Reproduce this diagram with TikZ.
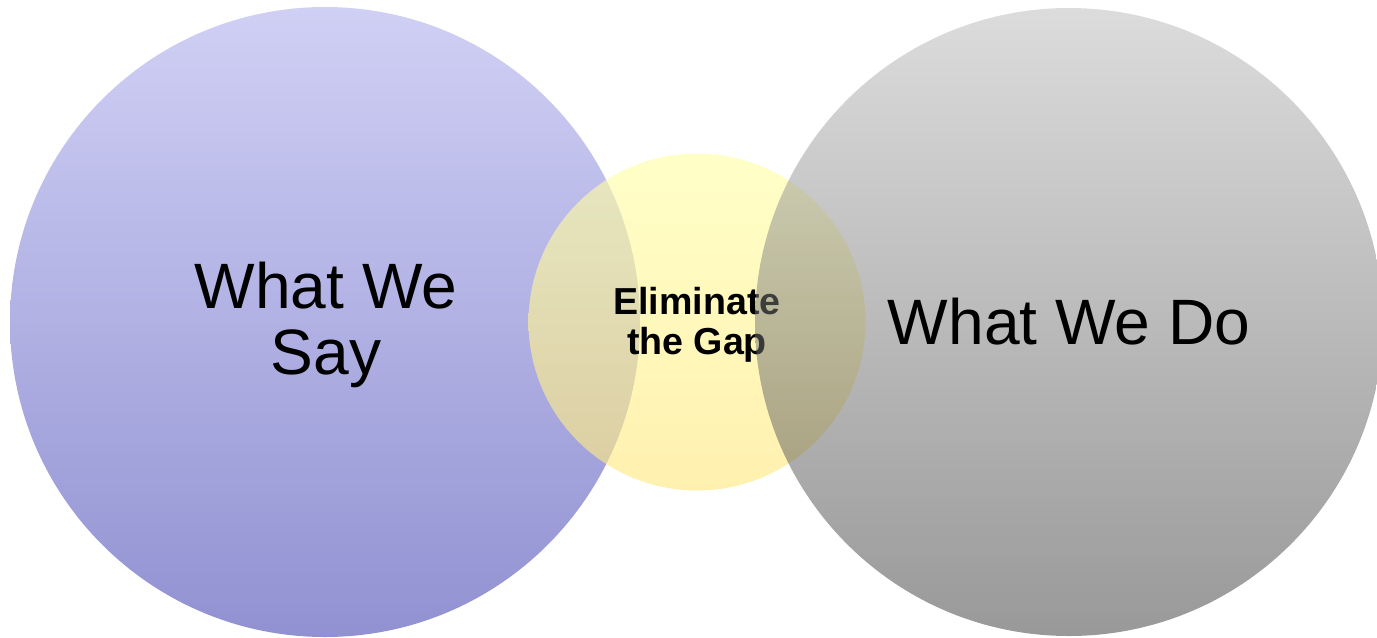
\documentclass[tikz,border=0pt]{standalone}
\usepackage{fontspec}
\setmainfont{Liberation Sans}
\usepackage{tikz}

\definecolor{saytop}{RGB}{208,208,245}
\definecolor{saybot}{RGB}{145,145,210}
\definecolor{gaptop}{RGB}{255,255,168}
\definecolor{gapbot}{RGB}{255,232,128}
\definecolor{dotop}{RGB}{185,185,185}
\definecolor{dobot}{RGB}{51,51,51}

\begin{document}
\begin{tikzpicture}[x=.02cm, y=-.02cm,
    big/.style={font=\fontsize{36.5}{37.4}\selectfont, align=center},
    small/.style={font=\fontsize{21.4}{22.6}\bfseries\selectfont, align=center}]
    \useasboundingbox (0,0) rectangle (1377,637);
    % what we say
    \shade[top color=saytop, bottom color=saybot] (325,322) circle (315);
    \node[big] (say) at (326,325) {What We\\Say};
    % the gap in between
    \shade[top color=gaptop, bottom color=gapbot, fill opacity=.63] (697,322) circle (168.5);
    \node[small] (gap) at (697,325) {Eliminate\\the Gap};
    % what we do
    \shade[top color=dotop, bottom color=dobot, fill opacity=.5] (1069,322) circle (314);
    \node[big] (do) at (1069,322) {What We Do};
\end{tikzpicture}
\end{document}
